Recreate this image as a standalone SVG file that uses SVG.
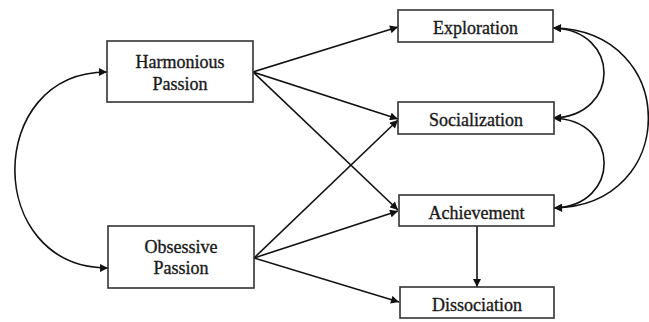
<svg xmlns="http://www.w3.org/2000/svg" width="649" height="322" viewBox="0 0 649 322">
<defs>
<style>
.box{fill:#fff;stroke:#333;stroke-width:1.6}
.lbl{font-family:"Liberation Serif","Times New Roman",serif;font-size:18px;fill:#1a1a1a;stroke:#1a1a1a;stroke-width:0.35;text-anchor:middle}
.c{fill:none;stroke:#111;stroke-width:1.6}
</style>
<marker id="ah" viewBox="0 0 10 10" refX="10" refY="5" markerWidth="9" markerHeight="8" markerUnits="userSpaceOnUse" orient="auto-start-reverse">
<path d="M0,0 L10,5 L0,10 Z" fill="#111"/>
</marker>
</defs>
<rect width="649" height="322" fill="#fff"/>
<g id="connectors">
<path class="c" d="M253,72 L398,27" marker-end="url(#ah)"/>
<path class="c" d="M253,72 L398,119" marker-end="url(#ah)"/>
<path class="c" d="M253,72 L398,210" marker-end="url(#ah)"/>
<path class="c" d="M254,258 L398,120" marker-end="url(#ah)"/>
<path class="c" d="M254,258 L398,211" marker-end="url(#ah)"/>
<path class="c" d="M254,258 L399,302" marker-end="url(#ah)"/>
<path class="c" d="M477,226 L477,287" marker-end="url(#ah)"/>
<path class="c" d="M107,72 C-16,72 -16,268 108,268" marker-start="url(#ah)" marker-end="url(#ah)"/>
<path class="c" d="M553,28 C621,30 621,116 553,118" marker-start="url(#ah)" marker-end="url(#ah)"/>
<path class="c" d="M553,118 C621,120 621,206 554,208" marker-start="url(#ah)" marker-end="url(#ah)"/>
<path class="c" d="M553,28 C680,30 680,206 554,208" marker-start="url(#ah)" marker-end="url(#ah)"/>
</g>
<g id="harmonious">
<rect class="box" x="107" y="41" width="146" height="61"/>
<text class="lbl" x="180" y="68">Harmonious</text>
<text class="lbl" x="180" y="90">Passion</text>
</g>
<g id="obsessive">
<rect class="box" x="108" y="226" width="146" height="62"/>
<text class="lbl" x="181" y="253">Obsessive</text>
<text class="lbl" x="181" y="274">Passion</text>
</g>
<g id="exploration">
<rect class="box" x="398" y="10" width="155" height="32"/>
<text class="lbl" x="475.5" y="34">Exploration</text>
</g>
<g id="socialization">
<rect class="box" x="398" y="102" width="156" height="32"/>
<text class="lbl" x="476" y="126">Socialization</text>
</g>
<g id="achievement">
<rect class="box" x="399" y="195" width="155" height="31"/>
<text class="lbl" x="476.5" y="219">Achievement</text>
</g>
<g id="dissociation">
<rect class="box" x="400" y="287" width="154" height="31"/>
<text class="lbl" x="477" y="311">Dissociation</text>
</g>
</svg>
